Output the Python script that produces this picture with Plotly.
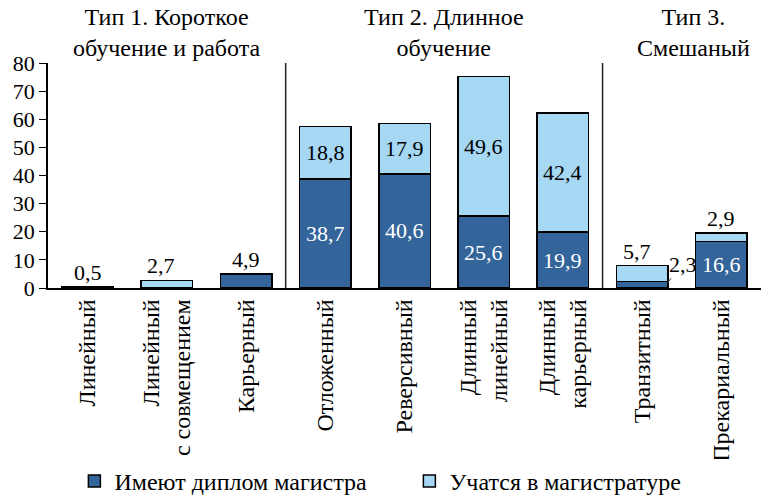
import plotly.graph_objects as go

categories = ["Линейный", "Линейный<br>с совмещением", "Карьерный", "Отложенный",
              "Реверсивный", "Длинный<br>линейный", "Длинный<br>карьерный",
              "Транзитный", "Прекариальный"]
diploma = [0.5, 0, 4.9, 38.7, 40.6, 25.6, 19.9, 2.3, 16.6]
studying = [0, 2.7, 0, 18.8, 17.9, 49.6, 42.4, 5.7, 2.9]
y_ticks = [0, 10, 20, 30, 40, 50, 60, 70, 80]
group_titles = ["Тип 1. Короткое<br>обучение и работа", "Тип 2. Длинное<br>обучение", "Тип 3.<br>Смешаный"]
group_centers = [1, 4.5, 7.65]
separators = [2.5, 6.5]

DARK = "#34659a"
LIGHT = "#a6d8f3"
FONT = "Times New Roman"
NUM = 22
WORD = 24
BAR_W = 0.65

x = list(range(len(categories)))
fig = go.Figure()
fig.add_trace(go.Bar(x=x, y=diploma, name="Имеют диплом магистра", marker_color=DARK,
                     marker_line=dict(color="black", width=1.5), width=BAR_W))
fig.add_trace(go.Bar(x=x, y=studying, name="Учатся в магистратуре", marker_color=LIGHT,
                     marker_line=dict(color="black", width=1.5), width=BAR_W))

def fmt(v):
    return f"{v:.1f}".replace(".", ",")

for i in x:
    d, s = diploma[i], studying[i]
    total = d + s
    if d >= 10:
        fig.add_annotation(x=i, y=d / 2, text=fmt(d), showarrow=False, font=dict(family=FONT, size=NUM, color="white"))
    if s >= 10:
        fig.add_annotation(x=i, y=d + s / 2, text=fmt(s), showarrow=False, font=dict(family=FONT, size=NUM, color="black"))
    if d > 0 and d < 10 and s == 0:
        fig.add_annotation(x=i, y=total, text=fmt(d), showarrow=False, yanchor="bottom", font=dict(family=FONT, size=NUM, color="black"))
    if s > 0 and s < 10:
        fig.add_annotation(x=i - 0.07 if d < 10 else i, y=total, text=fmt(s), showarrow=False, yanchor="bottom",
                           font=dict(family=FONT, size=NUM, color="black"))
    if 0 < d < 10 and s > 0:
        fig.add_annotation(x=i + BAR_W / 2, y=d * 0.9, text=fmt(d), showarrow=True, arrowhead=0, arrowwidth=1,
                           ax=15, ay=-18, font=dict(family=FONT, size=NUM, color="black"))

for c, t in zip(group_centers, group_titles):
    fig.add_annotation(x=c, xref="x", y=1.0, yref="paper", yanchor="bottom", yshift=0, text=t,
                       showarrow=False, font=dict(family=FONT, size=WORD, color="black"))

for s in separators:
    fig.add_shape(type="line", x0=s, x1=s, y0=0, y1=80, xref="x", yref="y",
                  line=dict(color="#222222", width=1.5))

fig.update_layout(
    width=761, height=502,
    margin=dict(l=48, r=0, t=63, b=214, autoexpand=False),
    barmode="stack",
    plot_bgcolor="white", paper_bgcolor="white",
    showlegend=True,
    legend=dict(orientation="h", x=0.037, xanchor="left", y=-0.86, yanchor="middle",
                traceorder="normal", font=dict(family=FONT, size=WORD, color="black"),
                entrywidth=290),
)
fig.update_xaxes(tickvals=x, ticktext=categories, tickangle=-90, range=[-0.5, 8.5],
                 showline=True, linecolor="black", linewidth=1.5, ticks="", showgrid=False,
                 tickfont=dict(family=FONT, size=WORD, color="black"), automargin=False)
fig.update_yaxes(tickvals=y_ticks, range=[0, 80], showline=True, linecolor="black", linewidth=1.5,
                 ticks="outside", ticklen=7, tickcolor="black", showgrid=False, zeroline=False,
                 tickfont=dict(family=FONT, size=NUM, color="black"), automargin=False)
fig.write_html("out.html", config={"displayModeBar": False},
               post_script="document.body.style.margin='0';")
